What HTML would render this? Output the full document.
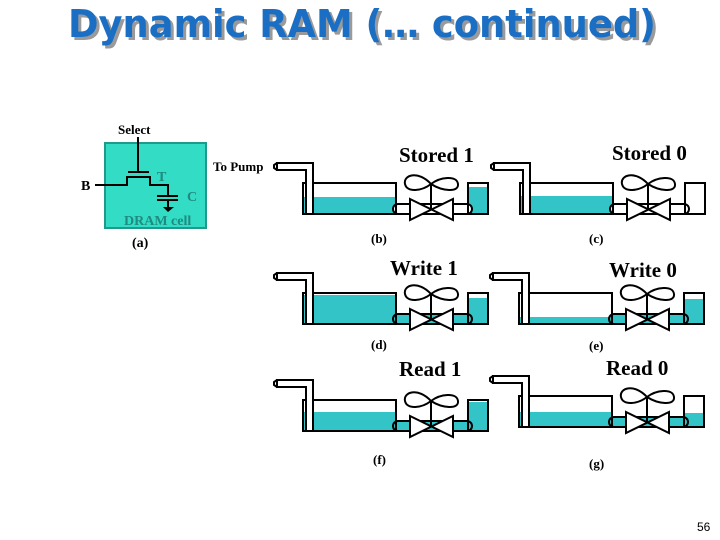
<!DOCTYPE html>
<html><head><meta charset="utf-8"><style>
html,body{margin:0;padding:0;background:#fff;}
svg{display:block;}
</style></head><body>
<svg width="720" height="540" viewBox="0 0 720 540" xmlns="http://www.w3.org/2000/svg">
<defs>
<g id="outline" fill="none" stroke="#000" stroke-width="2">
  <rect x="303" y="183" width="93" height="31"/>
  <rect x="468" y="183" width="20" height="31"/>
  <path d="M277,163 H313 V214 H306 V170 H277 Z" fill="#fff"/>
  <path d="M277,163 l-3,2 v3 l3,2" stroke-width="2"/>
  <path d="M431,184 C418,170 403,175 405,184 C407,193 422,191 431,184 C440,177 457,175 458,184 C459,193 442,191 431,184 Z"/>
  <line x1="431" y1="184" x2="431" y2="210"/>
</g>
<g id="valve" stroke="#000" stroke-width="2">
  <path d="M410,199 L453,220 L453,199 L410,220 Z" fill="#fff"/>
</g>
</defs>

<!-- Title -->
<g font-family="'DejaVu Sans', sans-serif" font-weight="bold" font-size="38">
<text x="71" y="40" fill="#9a9a9a" textLength="588" lengthAdjust="spacingAndGlyphs">Dynamic RAM (… continued)</text>
<text x="68" y="37" fill="#1a6fc4" textLength="588" lengthAdjust="spacingAndGlyphs">Dynamic RAM (… continued)</text>
</g>

<!-- DRAM cell -->
<rect x="105" y="143" width="101" height="85" fill="#33dcc4" stroke="#1f9a8a" stroke-width="2"/>
<g stroke="#000" stroke-width="2" fill="none">
  <line x1="138" y1="137" x2="138" y2="172"/>
  <line x1="128" y1="172" x2="149" y2="172"/>
  <path d="M95,185 H127 V177 H150 V185 H168 V196"/>
  <line x1="157" y1="196" x2="178" y2="196"/>
  <line x1="157" y1="200" x2="178" y2="200"/>
  <line x1="168" y1="200" x2="168" y2="207"/>
</g>
<path d="M163,207 H174 L168,212 Z" fill="#000"/>
<g font-family="'Liberation Serif', serif" font-size="13" font-weight="bold">
<text x="118" y="134">Select</text>
<text x="81" y="190" font-size="14">B</text>
<text x="157" y="181" fill="#1f8a80" font-size="14">T</text>
<text x="187" y="201" fill="#1f8a80" font-size="14">C</text>
<text x="124" y="225" fill="#1f8a80" font-size="14">DRAM cell</text>
<text x="132" y="247" font-size="14">(a)</text>
<text x="213" y="171">To Pump</text>
</g>

<!-- b -->
<g transform="translate(0,0)">
  <rect x="303" y="197" width="93" height="17" fill="#33c4c8"/>
  <rect x="468" y="187" width="20" height="27" fill="#33c4c8"/>
  <rect x="393" y="204" width="79" height="10" rx="5" fill="#fff" stroke="#000" stroke-width="2"/>
  <use href="#outline"/><use href="#valve"/>
</g>
<!-- c -->
<g transform="translate(217,0)">
  <rect x="303" y="196" width="93" height="18" fill="#33c4c8"/>
  <rect x="393" y="204" width="79" height="10" rx="5" fill="#fff" stroke="#000" stroke-width="2"/>
  <use href="#outline"/><use href="#valve"/>
</g>
<!-- d -->
<g transform="translate(0,110)">
  <rect x="303" y="185" width="93" height="29" fill="#33c4c8"/>
  <rect x="468" y="188" width="20" height="26" fill="#33c4c8"/>
  <rect x="393" y="204" width="79" height="10" rx="5" fill="#33c4c8" stroke="#000" stroke-width="2"/>
  <use href="#outline"/><use href="#valve"/>
</g>
<!-- e -->
<g transform="translate(216,110)">
  <rect x="303" y="207" width="93" height="7" fill="#33c4c8"/>
  <rect x="468" y="189" width="20" height="25" fill="#33c4c8"/>
  <rect x="393" y="204" width="79" height="10" rx="5" fill="#33c4c8" stroke="#000" stroke-width="2"/>
  <use href="#outline"/><use href="#valve"/>
</g>
<!-- f -->
<g transform="translate(0,217)">
  <rect x="303" y="195" width="93" height="19" fill="#33c4c8"/>
  <rect x="468" y="185" width="20" height="29" fill="#33c4c8"/>
  <rect x="393" y="204" width="79" height="10" rx="5" fill="#33c4c8" stroke="#000" stroke-width="2"/>
  <use href="#outline"/><use href="#valve"/>
</g>
<!-- g -->
<g transform="translate(216,213)">
  <rect x="303" y="199" width="93" height="15" fill="#33c4c8"/>
  <rect x="468" y="200" width="20" height="14" fill="#33c4c8"/>
  <rect x="393" y="204" width="79" height="10" rx="5" fill="#33c4c8" stroke="#000" stroke-width="2"/>
  <use href="#outline"/><use href="#valve"/>
</g>

<!-- labels -->
<g font-family="'Liberation Serif', serif" font-size="21" font-weight="bold">
<text x="399" y="162">Stored 1</text>
<text x="612" y="160">Stored 0</text>
<text x="390" y="275">Write 1</text>
<text x="609" y="277">Write 0</text>
<text x="399" y="376">Read 1</text>
<text x="606" y="375">Read 0</text>
</g>
<g font-family="'Liberation Serif', serif" font-size="13" font-weight="bold">
<text x="371" y="243">(b)</text>
<text x="589" y="243">(c)</text>
<text x="371" y="349">(d)</text>
<text x="589" y="350">(e)</text>
<text x="373" y="464">(f)</text>
<text x="589" y="468">(g)</text>
</g>
<text x="697" y="531" font-family="'Liberation Sans', sans-serif" font-size="12">56</text>
</svg>
</body></html>
